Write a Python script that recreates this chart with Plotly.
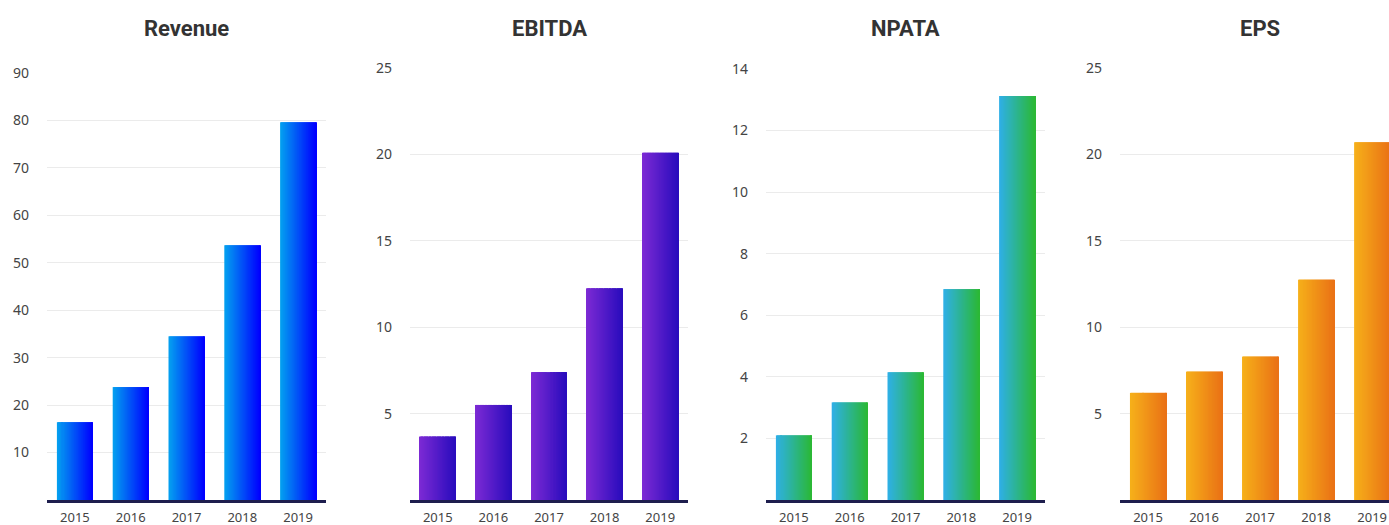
import plotly.graph_objects as go

years = ["2015", "2016", "2017", "2018", "2019"]
titles = ["Revenue", "EBITDA", "NPATA", "EPS"]
revenue = [16.4, 23.8, 34.5, 53.7, 79.6]
ebitda = [3.67, 5.5, 7.4, 12.25, 20.1]
npata = [2.1, 3.17, 4.15, 6.85, 13.12]
eps = [6.2, 7.43, 8.3, 12.75, 20.7]
series = [revenue, ebitda, npata, eps]
y_ticks = [[10, 20, 30, 40, 50, 60, 70, 80, 90],
           [5, 10, 15, 20, 25],
           [2, 4, 6, 8, 10, 12, 14],
           [5, 10, 15, 20, 25]]
y_ranges = [[0, 90], [0, 25], [0, 14], [0, 25]]
grad_left = ["#04a0f0", "#7c2ad4", "#2fb0e6", "#f6b01a"]
grad_right = ["#0000ff", "#2a0cbd", "#2bb836", "#ea7216"]

W, H = 1389, 525
# plot-area pixel boxes (left, right, top, bottom)
boxes = [(47, 326, 73, 500), (410, 688, 68, 500), (766, 1045, 69, 500), (1120, 1389, 68, 500)]
x_ranges = [[-0.5, 4.5], [-0.5, 4.5], [-0.5, 4.5], [-0.5, 4.30]]

def hex2rgb(h):
    h = h.lstrip("#")
    return tuple(int(h[i:i + 2], 16) for i in (0, 2, 4))

def mix(a, b, t):
    ra, rb = hex2rgb(a), hex2rgb(b)
    return "rgb(%d,%d,%d)" % tuple(round(ra[k] + (rb[k] - ra[k]) * t) for k in range(3))

fig = go.Figure()
N = 36
bw = 0.645
for p in range(4):
    xa = "x" if p == 0 else "x%d" % (p + 1)
    ya = "y" if p == 0 else "y%d" % (p + 1)
    for i in range(N):
        t = i / (N - 1)
        last = i == N - 1
        fig.add_trace(go.Bar(
            x=years, y=series[p], xaxis=xa, yaxis=ya,
            width=bw / N * (1.0 if last else 2.0), offset=-bw / 2 + i * bw / N,
            marker=dict(color=mix(grad_left[p], grad_right[p], t), line=dict(width=0)),
            showlegend=False, hoverinfo="skip" if i else "x+y",
        ))

layout = dict(
    width=W, height=H, margin=dict(l=0, r=0, t=0, b=0),
    paper_bgcolor="white", plot_bgcolor="white",
    barmode="overlay", showlegend=False, template="none",
    font=dict(family="Noto Sans, Open Sans, sans-serif", size=14, color="#444"),
)
annotations = []
for p in range(4):
    l, r, t, b = boxes[p]
    sx = "" if p == 0 else str(p + 1)
    layout["xaxis" + sx] = dict(
        domain=[l / W, r / W], anchor="y" + sx, type="category",
        range=x_ranges[p], showgrid=False, zeroline=False,
        showline=True, linecolor="#1e1e4e", linewidth=2.5,
        ticks="", ticklabelstandoff=4, automargin=False,
        tickfont=dict(size=13, color="#444"),
    )
    layout["yaxis" + sx] = dict(
        domain=[1 - b / H, 1 - t / H], anchor="x" + sx,
        range=y_ranges[p], tickvals=y_ticks[p], showgrid=True,
        gridcolor="#ebebeb", gridwidth=1, zeroline=False, showline=False,
        ticks="", ticklabelstandoff=17, automargin=False,
        tickfont=dict(size=14, color="#444"),
    )
    annotations.append(dict(
        text="<b>%s</b>" % titles[p], x=(l + (r if p < 3 else 1400)) / 2 / W, y=1 - 28 / H,
        xref="paper", yref="paper", xanchor="center", yanchor="middle",
        showarrow=False, font=dict(family="Roboto, sans-serif", size=22, color="#333"),
    ))
layout["annotations"] = annotations
fig.update_layout(**layout)
fig.write_html("out.html", config={"displayModeBar": False},
               post_script="document.body.style.margin='0';")
